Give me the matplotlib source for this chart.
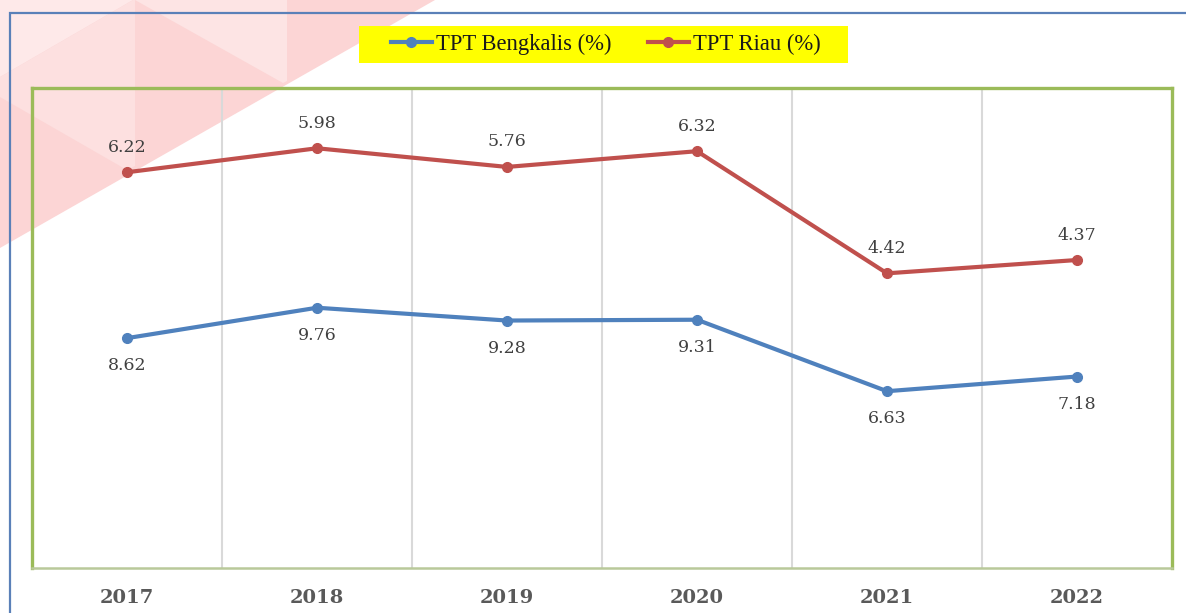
import matplotlib.pyplot as plt
from matplotlib.lines import Line2D
from matplotlib.patches import Polygon, Rectangle

# --- Data ---------------------------------
years = ["2017", "2018", "2019", "2020", "2021", "2022"]
tpt_bengkalis = [8.62, 9.76, 9.28, 9.31, 6.63, 7.18]
tpt_riau = [6.22, 5.98, 5.76, 6.32, 4.42, 4.37]

BLUE = "#4F81BD"
RED = "#C0504D"
GREEN = "#9BBB59"

W, H = 1186, 613


def fx(x, y):
    # pixel -> figure fraction
    return (x / W, 1 - y / H)


fig = plt.figure(figsize=(W / 100, H / 100), dpi=100)

# decoration at top-left (pink triangles), behind everything
deco = [
    ([(0, 0), (435, 0), (0, 248)], "#fcd5d5"),
    ([(0, 0), (133, 0), (0, 77)], "#fee9e9"),
    ([(133, 0), (0, 77), (0, 97), (127, 170), (135, 166), (135, 0)], "#fde0e0"),
    ([(135, 0), (283, 83), (287, 81), (287, 0)], "#fde4e4"),
]
for pts, col in deco:
    fig.patches.append(Polygon([fx(*p) for p in pts], closed=True, transform=fig.transFigure,
                               facecolor=col, edgecolor="none", zorder=-3))

# outer blue border
fig.patches.append(Rectangle(fx(10, 650), (W + 50) / W, (650 - 13) / H, transform=fig.transFigure,
                             facecolor="none", edgecolor="#5A80B8", linewidth=1.6, zorder=-2))

ax = fig.add_axes([32 / W, 1 - 568 / H, 1140 / W, 480 / H])
ax.set_facecolor("none")
ax.set_zorder(1)

x = list(range(len(years)))
# stacked line chart: Riau is drawn on top of Bengkalis
riau_stacked = [a + b for a, b in zip(tpt_bengkalis, tpt_riau)]

for xb in [i + 0.5 for i in x[:-1]]:
    ax.axvline(xb, color="#d9d9d9", linewidth=1.5, zorder=1)

ax.plot(x, tpt_bengkalis, color=BLUE, linewidth=3, marker="o", markersize=7, zorder=3)
ax.plot(x, riau_stacked, color=RED, linewidth=3, marker="o", markersize=7, zorder=3)

lab_font = dict(family="DejaVu Serif", size=12.5, color="#404040")
for xi, v in zip(x, tpt_bengkalis):
    ax.annotate(f"{v:.2f}", (xi, v), xytext=(0, -20), textcoords="offset points",
                ha="center", va="center", **lab_font)
for xi, v, s in zip(x, tpt_riau, riau_stacked):
    ax.annotate(f"{v:.2f}", (xi, s), xytext=(0, 18), textcoords="offset points",
                ha="center", va="center", **lab_font)

ax.set_xlim(-0.5, len(years) - 0.5)
ax.set_ylim(0, 18)
ax.set_yticks([])
ax.set_xticks(x)
ax.set_xticklabels(years, family="DejaVu Serif", fontweight="bold", fontsize=14, color="#595959")
ax.tick_params(axis="x", length=0, pad=15)

for side in ["top", "left", "right"]:
    ax.spines[side].set_color(GREEN)
    ax.spines[side].set_linewidth(2.4)
ax.spines["bottom"].set_color("#b9c99a")
ax.spines["bottom"].set_linewidth(1.8)

# legend with yellow box
fig.patches.append(Rectangle(fx(359, 63), (848 - 359) / W, (63 - 26) / H, transform=fig.transFigure,
                             facecolor="#FFFF00", edgecolor="none", zorder=-1))
handles = [
    Line2D([], [], color=BLUE, linewidth=3, marker="o", markersize=7),
    Line2D([], [], color=RED, linewidth=3, marker="o", markersize=7),
]
leg = fig.legend(handles, ["TPT Bengkalis (%)", "TPT Riau (%)"], ncol=2, frameon=False,
                 loc="center", bbox_to_anchor=fx(606, 44.5),
                 prop=dict(family="Liberation Serif", size=16.3),
                 handlelength=1.8, handletextpad=0.2, columnspacing=1.6)
for t in leg.get_texts():
    t.set_color("#1a1a1a")

fig.savefig("out.png", dpi=100)
